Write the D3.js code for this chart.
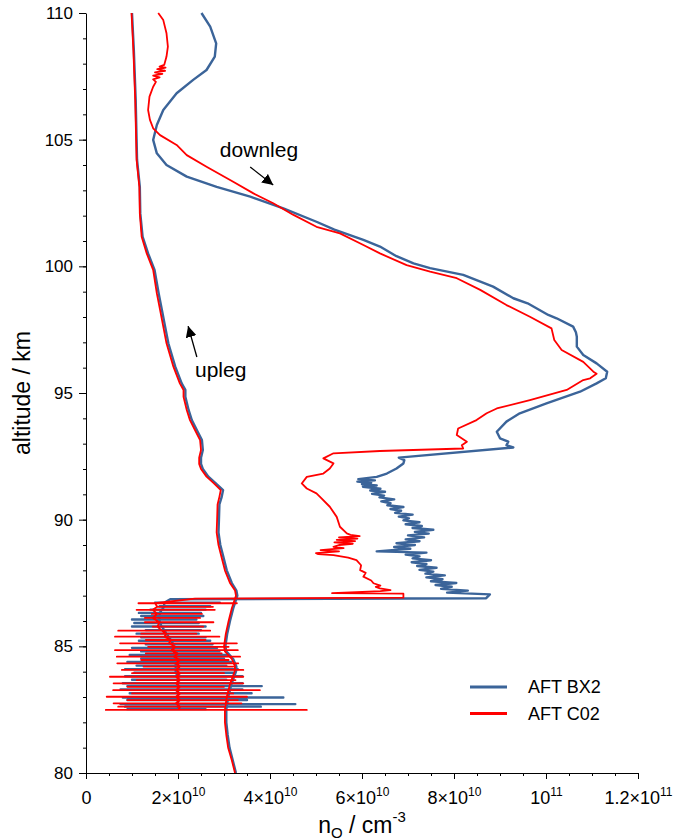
<!DOCTYPE html>
<html>
<head>
<meta charset="utf-8">
<script src="https://cdn.jsdelivr.net/npm/d3@7"></script>
<style>
  body { margin: 0; background: #fff; }
  text { font-family: "Liberation Sans", Arial, Helvetica, sans-serif; fill: #000; }
</style>
</head>
<body>
<div id="chart"></div>
<script>
// Atomic oxygen density profiles, density in units of 1e10 cm^-3, rows are [altitude km, density]
const uplegBX2 = [
  [110,1.00],[108.54,1.04],[106.57,1.08],[104.99,1.10],[104.2,1.11],[103.14,1.17],[102.09,1.18],
  [101.17,1.23],[100.51,1.35],[99.86,1.49],[98.93,1.58],[98.28,1.65],[97.62,1.72],[96.96,1.79],
  [96.04,1.94],[95.38,2.08],[95.12,2.16],[94.85,2.16],[94.33,2.23],[93.93,2.30],[93.5,2.42],
  [93.14,2.52],[92.75,2.54],[92.45,2.50],[92.2,2.50],[92,2.54],[91.7,2.66],[91.45,2.81],
  [91.17,2.98],[90.9,2.95],[90.6,2.90],[90,2.89],[89.5,2.88],[89,2.92],[88.5,2.99],[88,3.06],
  [87.5,3.17],[87.2,3.27],[87,3.29],[86.5,3.20],[86,3.13],[85.5,3.07],[85,3.03],[84.8,3.05],
  [84.5,3.20],[84.2,3.27],[84,3.26],[83.5,3.16],[83,3.09],[82.5,3.05],[82,3.05],[81.5,3.08],
  [81,3.12],[80.5,3.19],[80,3.26]
];
const uplegC02 = [
  [110,0.99],[108.54,1.03],[106.57,1.07],[104.99,1.09],[104.2,1.10],[103.14,1.16],[102.09,1.17],
  [101.17,1.21],[100.51,1.32],[99.86,1.46],[98.93,1.54],[98.28,1.61],[97.62,1.68],[96.96,1.75],
  [96.04,1.90],[95.38,2.04],[95.12,2.12],[94.85,2.12],[94.33,2.19],[93.93,2.26],[93.5,2.38],
  [93.14,2.48],[92.75,2.50],[92.45,2.46],[92.2,2.46],[92,2.50],[91.7,2.62],[91.45,2.77],
  [91.17,2.93],[90.9,2.90],[90.6,2.86],[90,2.85],[89.5,2.84],[89,2.88],[88.5,2.95],[88,3.02],
  [87.5,3.13],[87.2,3.24],[87,3.26],[86.5,3.17],[86,3.10],[85.5,3.04],[85,3.00],[84.8,3.02],
  [84.5,3.17],[84.2,3.24],[84,3.23],[83.5,3.13],[83,3.06],[82.5,3.02],[82,3.02],[81.5,3.05],
  [81,3.09],[80.5,3.17],[80,3.24]
];

const downlegBX2 = [
  [110.0,2.51],[109.46,2.70],[108.8,2.83],[108.28,2.80],[107.75,2.62],[107.36,2.33],[106.83,1.97],
  [106.17,1.68],[105.58,1.54],[104.99,1.46],[104.46,1.54],[104.0,1.75],[103.54,2.19],[103.14,2.84],
  [102.75,3.57],[102.29,4.29],[101.76,5.01],[101.45,5.40],[101.04,6.03],[100.78,6.39],[100.4,6.75],
  [100.12,7.12],[99.93,7.48],[99.66,8.2],[99.2,8.85],[98.74,9.29],[98.54,9.60],[98.08,10.05],
  [97.95,10.23],[97.62,10.59],[97.4,10.65],[97.22,10.67],[96.83,10.67],[96.5,10.81],[96.17,11.1],
  [95.84,11.33],[95.58,11.3],[95.38,11.1],[95.05,10.74],[94.59,10.01],[94.2,9.43],[93.87,9.14],
  [93.47,8.93],[93.21,9.0],[93.08,9.18],[92.94,9.14],[92.85,9.29],[92.45,6.8],[92.35,6.92],
  [92.22,6.9],[92.02,6.75],[91.82,6.54],[91.69,6.32],
  [91.6,5.92],[91.55,6.28],[91.5,5.9],[91.45,6.2],[91.4,6.0],[91.35,6.32],[91.3,6.02],[91.22,6.4],
  [91.15,6.18],[91.1,6.5],[91.02,6.22],[90.95,6.48],[90.88,6.38],[90.8,6.7],[90.72,6.42],[90.65,6.62],
  [90.57,6.55],[90.5,6.9],[90.42,6.62],[90.35,6.85],[90.27,6.72],[90.2,7.1],[90.12,6.8],[90.05,7.02],
  [89.97,6.9],[89.9,7.25],[89.82,6.95],[89.75,7.3],[89.67,7.1],[89.6,7.55],[89.52,7.15],[89.45,7.45],
  [89.38,7.0],[89.3,7.35],[89.22,6.95],[89.15,7.25],[89.07,6.75],[89.0,7.15],[88.92,6.7],[88.85,7.05],
  [88.75,6.32],[88.7,7.4],[88.62,6.95],[88.55,7.25],[88.47,7.1],[88.4,7.5],[88.32,7.08],[88.25,7.4],
  [88.17,7.2],[88.1,7.62],[88.02,7.25],[87.95,7.55],[87.87,7.38],[87.8,7.8],[87.72,7.4],[87.65,7.75],
  [87.57,7.5],[87.5,8.05],[87.42,7.6],[87.35,7.95],[87.27,7.72],[87.2,8.3],[87.12,7.85],[87.05,8.78],
  [86.9,8.7],[86.86,1.83]
];
const downlegC02 = [
  [110.0,1.57],[109.72,1.68],[109.2,1.75],[108.67,1.78],[108.28,1.75],[107.95,1.70],
  [107.88,1.60],[107.84,1.73],[107.78,1.55],[107.72,1.72],[107.66,1.50],[107.6,1.66],[107.53,1.46],
  [107.46,1.60],[107.38,1.46],[107.28,1.52],
  [107.09,1.46],[106.7,1.38],[106.17,1.35],[105.78,1.39],[105.45,1.46],[105.18,1.61],[104.79,1.97],
  [104.39,2.19],[103.93,2.62],[103.34,3.2],[102.88,3.64],[102.49,4.07],[102.03,4.51],[101.56,5.01],
  [101.3,5.52],[100.84,6.03],[100.51,6.39],[100.05,6.97],[99.79,7.48],[99.53,8.06],[99.07,8.57],
  [98.47,9.14],[98.01,9.65],[97.55,10.12],[97.09,10.18],[96.7,10.34],[96.23,10.81],[95.84,11.03],
  [95.76,11.1],[95.58,10.96],[95.51,10.81],[95.12,10.45],[94.72,9.65],[94.39,8.93],[94.2,8.71],
  [93.93,8.49],[93.6,8.09],[93.34,8.06],[93.08,8.28],[92.94,8.17],[92.81,8.2],[92.71,6.39],
  [92.62,5.38],[92.42,5.16],[92.22,5.38],[92.02,5.3],[91.82,5.16],[91.69,4.8],[91.43,4.69],
  [91.23,4.8],[91.04,5.01],[90.84,5.12],[90.51,5.3],[90.11,5.45],[89.72,5.52],[89.46,5.67],
  [89.4,5.75],[89.35,5.95],[89.3,5.5],[89.25,5.9],[89.2,5.45],[89.15,5.85],[89.1,5.4],[89.05,5.8],
  [89.0,5.5],[88.93,5.38],[88.88,5.6],[88.8,5.1],[88.75,5.5],[88.68,5.0],[88.64,5.05],[88.6,5.38],
  [88.5,5.7],[88.4,5.88],[88.2,5.98],[88.01,5.96],[87.9,6.08],[87.75,6.03],[87.6,6.2],[87.49,6.25],
  [87.4,6.4],[87.35,6.3],[87.29,6.39],[87.22,6.62],[87.18,6.4],[87.1,5.35],[87.08,6.9],[86.92,6.9],
  [86.88,2.37]
];

// noisy lowest part of the downleg: [altitude, left end, right end, core]
const spikesBX2 = [
  [86.72,1.5,2.91,1.7],[86.58,1.6,2.7,1.7],[86.45,1.4,2.6,1.65],[86.32,1.15,2.5,1.6],
  [86.20,1.2,2.55,1.6],[86.06,1.0,2.4,1.6],[85.92,1.05,2.45,1.6],[85.78,1.0,2.6,1.65],
  [85.64,1.3,2.5,1.7],[85.50,1.1,2.45,1.75],[85.36,1.2,2.6,1.8],[85.22,1.15,2.7,1.85],
  [85.08,1.3,2.75,1.9],[84.94,1.0,2.85,1.9],[84.80,1.2,2.9,1.9],[84.66,0.95,3.1,1.95],
  [84.52,1.2,3.0,1.95],[84.38,0.9,3.15,1.95],[84.24,1.1,3.05,1.95],[84.10,0.85,3.3,1.95],
  [83.96,1.05,3.2,1.95],[83.82,0.85,3.4,2.0],[83.68,1.0,3.05,2.0],[83.54,0.8,3.4,2.0],
  [83.43,0.9,3.82,2.0],[83.30,0.75,3.4,2.0],[83.15,0.95,3.6,2.0],[82.98,0.8,4.29,2.0],
  [82.88,0.9,3.5,2.0],[82.72,0.75,4.55,2.0],[82.62,0.85,3.8,2.0],[82.52,0.9,2.6,2.0]
];
const spikesC02 = [
  [86.70,1.14,3.28,1.5],[86.56,1.67,2.76,1.55],[86.44,1.10,2.80,1.45],[86.28,1.43,2.52,1.55],
  [86.12,1.28,2.48,1.45],[85.95,1.28,2.77,1.6],[85.78,1.45,2.55,1.55],[85.62,0.70,2.70,1.65],
  [85.50,1.20,2.40,1.75],[85.38,0.63,2.90,1.7],[85.25,1.30,2.60,1.85],[85.12,0.74,3.28,1.8],
  [84.98,1.35,3.10,1.95],[84.85,0.63,3.30,1.85],[84.72,1.30,2.95,2.0],[84.59,0.67,3.35,1.9],
  [84.46,1.20,3.10,2.05],[84.33,0.68,3.31,1.95],[84.20,1.25,3.20,2.05],[84.07,0.78,3.42,1.95],
  [83.94,1.00,3.00,2.05],[83.80,0.52,3.42,1.95],[83.67,1.10,3.25,2.05],[83.54,0.60,3.42,1.95],
  [83.40,0.90,3.00,2.05],[83.27,0.59,3.78,1.95],[83.14,1.00,3.20,2.05],[83.01,0.45,3.50,1.95],
  [82.88,0.90,3.30,2.05],[82.75,0.60,3.38,1.95],[82.62,0.70,3.00,2.05],[82.49,0.43,4.80,2.0]
];

const xMajor = [0, 2, 4, 6, 8, 10, 12];
const xMinor = d3.range(0, 12.01, 0.5);
const xTickLabels = [["0", null], ["2", "10"], ["4", "10"], ["6", "10"], ["8", "10"], ["", "11"], ["1.2", "11"]];
const yMajor = [80, 85, 90, 95, 100, 105, 110];
const yMinor = d3.range(80, 111, 1);

const seriesNames = ["AFT BX2", "AFT C02"];
const seriesColors = ["#3b6499", "#ff0000"];

// annotations in data coordinates [altitude, density]
const annotations = [
  { text: "downleg", at: [104.32, 2.91], from: [103.92, 3.57], to: [103.21, 4.07] },
  { text: "upleg", at: [95.63, 2.37], from: [96.42, 2.41], to: [97.64, 2.22] }
];

const width = 677;
const height = 840;
const margin = { top: 13, right: 39, bottom: 67, left: 86 };

const svg = d3.select("#chart").append("svg")
    .attr("width", width)
    .attr("height", height);

const x = d3.scaleLinear().domain([0, 12]).range([margin.left, width - margin.right]);
const y = d3.scaleLinear().domain([80, 110]).range([height - margin.bottom, margin.top]);

// build the spike part as core -> left -> right -> core for each level
function spikePath(rows) {
  const pts = [];
  rows.forEach(([a, l, r, c]) => { pts.push([a, c], [a, l], [a, r], [a, c]); });
  return pts;
}

const line = d3.line().x(d => x(d[1])).y(d => y(d[0]));

const profiles = [
  { color: seriesColors[0], w: 2.4, data: uplegBX2 },
  { color: seriesColors[0], w: 2.4, data: downlegBX2.concat(spikePath(spikesBX2)) },
  { color: seriesColors[1], w: 1.8, data: uplegC02 },
  { color: seriesColors[1], w: 1.8, data: downlegC02.concat(spikePath(spikesC02)) }
];

svg.append("g")
  .selectAll("path")
  .data(profiles)
  .enter().append("path")
  .attr("d", d => line(d.data))
  .attr("fill", "none")
  .attr("stroke", d => d.color)
  .attr("stroke-width", d => d.w)
  .attr("stroke-linejoin", "round");

// axes
const xAxisY = height - margin.bottom;
svg.append("g")
  .attr("transform", `translate(0,${xAxisY})`)
  .call(d3.axisBottom(x).tickValues(xMinor).tickSize(3).tickSizeOuter(0).tickFormat(""))
  .call(g => g.select(".domain").remove());
const gx = svg.append("g")
  .attr("transform", `translate(0,${xAxisY})`)
  .call(d3.axisBottom(x).tickValues(xMajor).tickSize(6).tickSizeOuter(0).tickPadding(6));
gx.selectAll(".tick text").each(function(d, i) {
  const t = d3.select(this).text(null).attr("font-size", 18).attr("dy", "1.05em");
  const [m, e] = xTickLabels[i];
  if (e === null) { t.text(m); return; }
  t.append("tspan").text(m === "" ? "10" : m + "\u00d710");
  t.append("tspan").attr("font-size", 12).attr("dy", -8).text(e);
});

svg.append("g")
  .attr("transform", `translate(${margin.left},0)`)
  .call(d3.axisLeft(y).tickValues(yMinor).tickSize(3).tickSizeOuter(0).tickFormat(""))
  .call(g => g.select(".domain").remove());
svg.append("g")
  .attr("transform", `translate(${margin.left},0)`)
  .call(d3.axisLeft(y).tickValues(yMajor).tickSize(7).tickSizeOuter(0).tickPadding(6))
  .selectAll(".tick text").attr("font-size", 17);

svg.selectAll(".domain, .tick line").attr("stroke", "#000");

// axis titles
svg.append("text")
  .attr("transform", `translate(30,${(margin.top + xAxisY) / 2}) rotate(-90)`)
  .attr("text-anchor", "middle")
  .attr("font-size", 23)
  .text("altitude / km");

const xt = svg.append("text")
  .attr("x", (margin.left + width - margin.right) / 2)
  .attr("y", 833)
  .attr("text-anchor", "middle")
  .attr("font-size", 23);
xt.append("tspan").text("n");
xt.append("tspan").attr("font-size", 15).attr("dy", 5).text("O");
xt.append("tspan").attr("dy", -5).text(" / cm");
xt.append("tspan").attr("font-size", 15).attr("dy", -11).text("-3");

// arrows and labels
svg.append("defs").append("marker")
  .attr("id", "head")
  .attr("viewBox", "0 0 10 10")
  .attr("refX", 10).attr("refY", 5)
  .attr("markerWidth", 11).attr("markerHeight", 11)
  .attr("markerUnits", "userSpaceOnUse")
  .attr("orient", "auto")
  .append("path").attr("d", "M0,0L10,5L0,10z").attr("fill", "#000");

annotations.forEach(a => {
  svg.append("text")
    .attr("x", x(a.at[1])).attr("y", y(a.at[0]))
    .attr("font-size", 21)
    .text(a.text);
  svg.append("line")
    .attr("x1", x(a.from[1])).attr("y1", y(a.from[0]))
    .attr("x2", x(a.to[1])).attr("y2", y(a.to[0]))
    .attr("stroke", "#000").attr("stroke-width", 1.3)
    .attr("marker-end", "url(#head)");
});

// legend
const legend = svg.append("g").attr("transform", "translate(470,687)");
seriesNames.forEach((name, i) => {
  const g = legend.append("g").attr("transform", `translate(0,${i * 26.5})`);
  g.append("line").attr("x1", 0).attr("x2", 37).attr("y1", 0).attr("y2", 0)
    .attr("stroke", seriesColors[i]).attr("stroke-width", 3);
  g.append("text").attr("x", 58).attr("y", 6).attr("font-size", 18).text(name);
});
</script>
</body>
</html>
